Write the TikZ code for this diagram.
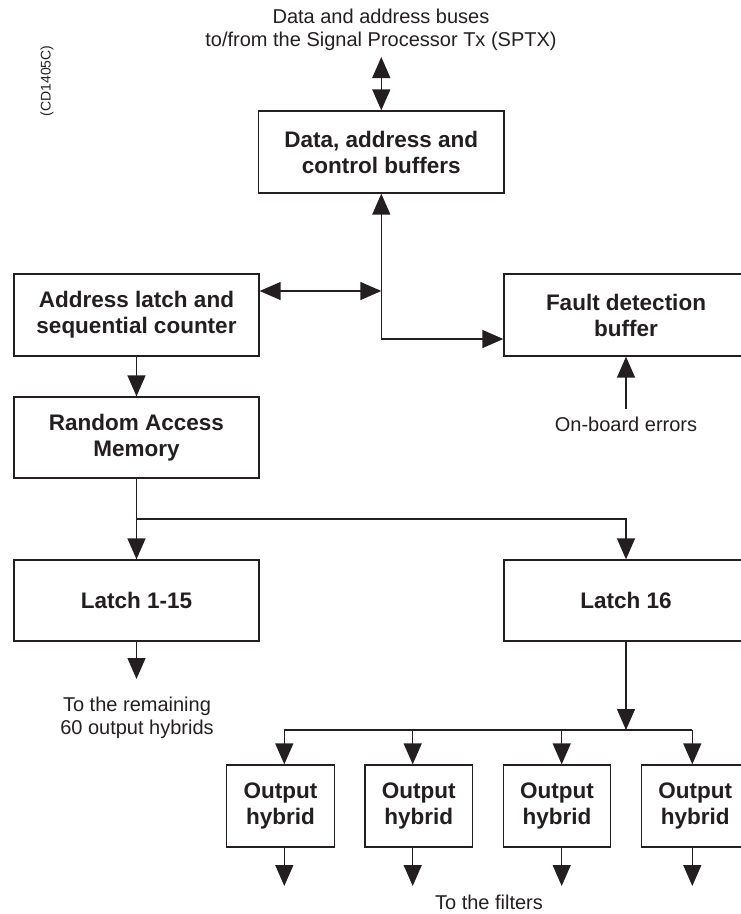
\documentclass[tikz,border=0pt]{standalone}
\usepackage{fontspec}
\setmainfont{Liberation Sans}
\usepackage{xcolor}
\usepackage{tikz}
\usetikzlibrary{calc,arrows.meta,positioning}
\definecolor{cdInk}{RGB}{35,31,32}
\tikzset{
  blk/.style={draw=cdInk, line width=1.3pt, rectangle, align=center, inner sep=0pt,
    text=cdInk, font=\fontsize{22.5}{26}\selectfont\bfseries},
  hyb/.style={blk, minimum width=107.5pt, minimum height=82pt},
  wire/.style={draw=cdInk, line width=1.4pt},
  tip/.style={wire, -{Triangle[length=21pt,width=18pt]}},
  tips/.style={wire, {Triangle[length=21pt,width=18pt]}-{Triangle[length=21pt,width=18pt]}},
  lbl/.style={align=center, text=cdInk, font=\fontsize{20}{23}\selectfont}
}
\begin{document}
\begin{tikzpicture}[x=1pt,y=-1pt]
    \useasboundingbox (0,0) rectangle (741,914);
    \clip (0,0) rectangle (741,914);

    % blocks
    \node[blk, minimum width=245.5pt, minimum height=82pt] (buf) at (381.3,152) {Data, address and\\control buffers};
    \node[blk, minimum width=245pt, minimum height=82pt] (addr) at (136.5,315) {Address latch and\\sequential counter};
    \node[blk, minimum width=244pt, minimum height=82pt] (fault) at (626,315) {Fault detection\\buffer};
    \node[blk, minimum width=245pt, minimum height=81pt] (ram) at (136.5,437.5) {Random Access\\Memory};
    \node[blk, minimum width=245pt, minimum height=81pt] (latchA) at (136.5,600.5) {Latch 1-15};
    \node[blk, minimum width=244pt, minimum height=81pt] (latchB) at (626,600.5) {Latch 16};
    \node[hyb] (hyb1) at (280.5,806) {Output\\hybrid};
    \node[hyb] (hyb2) at (418.8,806) {Output\\hybrid};
    \node[hyb] (hyb3) at (557,806) {Output\\hybrid};
    \node[hyb] (hyb4) at (695.3,806) {Output\\hybrid};

    % labels
    \node[lbl] (sptx) at (381,30) {Data and address buses\\to/from the Signal Processor Tx (SPTX)};
    \node[lbl, rotate=90, font=\fontsize{14}{16}\selectfont] (code) at (47,81) {(CD1405C)};
    \node[lbl] (errs) at (626,424) {On-board errors};
    \node[lbl] (rest) at (137,718) {To the remaining\\60 output hybrids};
    \node[lbl] (filt) at (489,902) {To the filters};

    % junctions and free ends
    \coordinate (busEnd) at (381.3,57);
    \coordinate (ab) at (381.3,291);
    \coordinate (fc) at (381.3,339);
    \coordinate (errSrc) at (626,409);
    \coordinate (split) at (136.5,519);
    \coordinate (restEnd) at (136.5,679);
    \coordinate (bus) at (626,730);
    \coordinate (b1) at (284.3,730);
    \coordinate (b2) at (412.7,730);
    \coordinate (b3) at (561.7,730);
    \coordinate (b4) at (692.3,730);
    \coordinate (o1) at (284.3,886);
    \coordinate (o2) at (412.7,886);
    \coordinate (o3) at (561.7,886);
    \coordinate (o4) at (692.3,886);

    % buses around the buffers
    \draw[tips] (busEnd) -- (buf.north);
    \draw[tips] (addr.east |- ab) -- (ab);
    \draw[tip] (fc) -- (buf.south);
    \draw[tip] (fc) -- (fc -| fault.west);
    \draw[tip] (errSrc) -- (fault.south);

    % memory and latches
    \draw[tip] (addr.south) -- (ram.north);
    \draw[wire] (ram.south) -- (split);
    \draw[tip] (split) -- (latchA.north);
    \draw[tip] (split) -| (latchB.north);
    \draw[tip] (latchA.south) -- (restEnd);

    % output hybrids
    \draw[tip] (latchB.south) -- (bus);
    \draw[wire] (b1) -- (b4);
    \draw[tip] (b1) -- (b1 |- hyb1.north);
    \draw[tip] (b2) -- (b2 |- hyb2.north);
    \draw[tip] (b3) -- (b3 |- hyb3.north);
    \draw[tip] (b4) -- (b4 |- hyb4.north);
    \draw[tip] (o1 |- hyb1.south) -- (o1);
    \draw[tip] (o2 |- hyb2.south) -- (o2);
    \draw[tip] (o3 |- hyb3.south) -- (o3);
    \draw[tip] (o4 |- hyb4.south) -- (o4);
\end{tikzpicture}
\end{document}
